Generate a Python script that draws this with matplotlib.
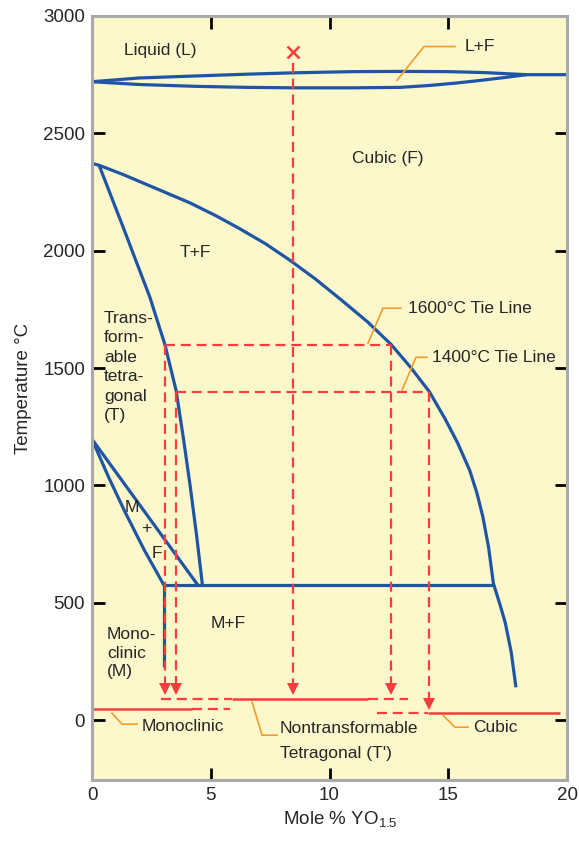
import numpy as np
import matplotlib.pyplot as plt

plt.rcParams['font.family'] = ['Liberation Sans', 'DejaVu Sans']

# --- phase boundary data (mole % YO1.5, temperature in C) ---

liq_upper_x = [0, 2, 4.5, 6.5, 8.5, 11, 13, 15, 16.5, 18.3, 20]
liq_upper_t = [2720, 2736, 2745, 2752, 2758, 2763, 2764, 2763, 2759, 2750, 2750]
liq_lower_x = [0, 2, 4.5, 6.5, 8.5, 11, 13, 14.2, 15.3, 16.3, 17.3, 18.3]
liq_lower_t = [2720, 2708, 2700, 2696, 2694, 2694, 2696, 2704, 2714, 2725, 2737, 2750]

cubic_x = [0, 0.3, 1.3, 2.7, 4.1, 5.2, 6.2, 7.3, 8.34, 9.4, 10.5, 11.6, 12.6, 13.4,
           14.2, 14.86, 15.4, 15.9, 16.2, 16.46, 16.7, 16.9, 17.2, 17.4, 17.65, 17.85]
cubic_t = [2372, 2364, 2325, 2265, 2205, 2150, 2095, 2030, 1959, 1880, 1790, 1697, 1600, 1505,
           1400, 1285, 1180, 1065, 970, 865, 735, 583, 485, 415, 290, 140]

tetra_x = [0.3, 1.35, 2.44, 3.07, 3.54, 3.85, 4.13, 4.4, 4.65]
tetra_t = [2364, 2090, 1801, 1600, 1405, 1200, 1000, 790, 575]

mono_x = [0, 0.7, 1.4, 2.2, 3.03]
mono_t = [1197, 1035, 885, 725, 575]
mf_x = [0, 4.46]
mf_t = [1197, 575]

eutectoid_t = 575
eutectoid_x = [3.03, 16.9]
mono_vert_x = 3.03
mono_vert_t = [575, 225]

tie_t = [1600, 1400]
tie_left = [3.07, 3.55]
tie_right = [12.6, 14.2]
start_x, start_t = 8.45, 2845
arrow_x = [3.07, 3.55, 8.45, 12.6, 14.2]
arrow_top = [1600, 1400, 2800, 1600, 1400]
arrow_tip = [106, 106, 106, 106, 45]

# room temperature phase bars
rt_upper_t = 89
rt_mono_t = 47
rt_cubic_t = 31

blue = '#1f55a5'
red = '#ff3b3b'
orange = '#f39c2b'
txt = '#262626'

fig = plt.figure(figsize=(5.79, 8.42), dpi=100)
ax = fig.add_axes([0.1589, 0.0736, 0.8204, 0.9074])
ax.set_facecolor('#fdf7cc')
ax.set_xlim(0, 20)
ax.set_ylim(-255, 3000)

# --- blue phase boundaries ---
bl = dict(color=blue, lw=2.3, solid_capstyle='butt', solid_joinstyle='round')
ax.plot(liq_upper_x, liq_upper_t, **bl)
ax.plot(liq_lower_x, liq_lower_t, **bl)
ax.plot(cubic_x, cubic_t, **bl)
ax.plot(tetra_x, tetra_t, **bl)
ax.plot(mono_x, mono_t, **bl)
ax.plot(mf_x, mf_t, **bl)
ax.plot(eutectoid_x, [eutectoid_t, eutectoid_t], **bl)
ax.plot([mono_vert_x, mono_vert_x], mono_vert_t, **bl)

# --- red dashed tie lines and arrows ---
dash = dict(color=red, lw=1.6, dashes=(4.5, 2.6))
for t, x0, x1 in zip(tie_t, tie_left, tie_right):
    ax.plot([x0, x1], [t, t], **dash)
for x, top, tip in zip(arrow_x, arrow_top, arrow_tip):
    ax.plot([x, x], [top, tip + 40], **dash)
    ax.plot(x, tip + 26, marker='v', ms=8.6, color=red, mew=0)
ax.plot(start_x, start_t, marker='x', ms=8, mew=1.8, color=red)

# --- room temperature bars ---
solid = dict(color=red, lw=1.8, solid_capstyle='butt')
ax.plot([2.9, 5.9], [rt_upper_t] * 2, **dash)
ax.plot([5.9, 11.6], [rt_upper_t] * 2, **solid)
ax.plot([11.6, 13.3], [rt_upper_t] * 2, **dash)
ax.plot([0, 4.2], [rt_mono_t] * 2, **solid)
ax.plot([4.2, 5.8], [rt_mono_t] * 2, **dash)
ax.plot([12.0, 14.15], [rt_cubic_t] * 2, **dash)
ax.plot([14.15, 19.7], [rt_cubic_t] * 2, **solid)

# --- leaders and labels ---
lead = dict(color=orange, lw=1.2)
fs = 12.5
ax.plot([12.84, 13.98, 15.28], [2726, 2870, 2870], **lead)
ax.text(15.7, 2870, 'L+F', fontsize=fs, color=txt, va='center')
ax.plot([11.62, 12.25, 13.0], [1606, 1755, 1755], **lead)
ax.text(13.3, 1755, '1600°C Tie Line', fontsize=fs, color=txt, va='center')
ax.plot([13.05, 13.64, 14.1], [1405, 1546, 1546], **lead)
ax.text(14.3, 1546, '1400°C Tie Line', fontsize=fs, color=txt, va='center')
ax.plot([0.84, 1.26, 1.9], [30, -17, -17], **lead)
ax.text(2.1, -25, 'Monoclinic', fontsize=fs, color=txt, va='center')
ax.plot([6.74, 7.16, 7.79], [77, -64, -64], **lead)
ax.text(7.9, -34, 'Nontransformable', fontsize=fs, color=txt, va='center')
ax.text(7.9, -141, "Tetragonal (T')", fontsize=fs, color=txt, va='center')
ax.plot([14.78, 15.28, 15.83], [21, -30, -30], **lead)
ax.text(16.04, -30, 'Cubic', fontsize=fs, color=txt, va='center')

ax.text(2.86, 2853, 'Liquid (L)', fontsize=fs, color=txt, ha='center', va='center')
ax.text(12.46, 2394, 'Cubic (F)', fontsize=fs, color=txt, ha='center', va='center')
ax.text(4.34, 1993, 'T+F', fontsize=fs, color=txt, ha='center', va='center')
ax.text(0.5, 1505, 'Trans-\nform-\nable\ntetra-\ngonal\n(T)', fontsize=fs, color=txt,
        va='center', linespacing=1.37)
ax.text(1.68, 907, 'M', fontsize=fs, color=txt, ha='center', va='center')
ax.text(2.27, 818, '+', fontsize=fs, color=txt, ha='center', va='center')
ax.text(2.74, 711, 'F', fontsize=fs, color=txt, ha='center', va='center')
ax.text(5.73, 413, 'M+F', fontsize=fs, color=txt, ha='center', va='center')
ax.text(0.63, 285, 'Mono-\nclinic\n(M)', fontsize=fs, color=txt, va='center', linespacing=1.3)

# --- axes styling ---
ax.set_xticks([0, 5, 10, 15, 20])
ax.set_yticks(np.arange(0, 3001, 500))
ax.tick_params(direction='in', length=9, width=2, color='black', top=True, right=True,
               labelsize=13.5, labelcolor=txt, pad=5)
for t in [ax.xaxis.get_major_ticks()[0], ax.xaxis.get_major_ticks()[-1],
          ax.yaxis.get_major_ticks()[-1]]:
    t.tick1line.set_visible(False)
    t.tick2line.set_visible(False)
for s in ax.spines.values():
    s.set_color('#aaaaaa')
    s.set_linewidth(2.2)

ax.set_ylabel('Temperature °C', fontsize=13.5, color=txt)
ax.yaxis.set_label_coords(-0.126, 0.513)
ax.set_xlabel('Mole % YO$_\\mathregular{1.5}$', fontsize=13.5, color=txt, va='top')
ax.xaxis.set_label_coords(0.522, -0.039)

fig.savefig('out.png', dpi=100)
